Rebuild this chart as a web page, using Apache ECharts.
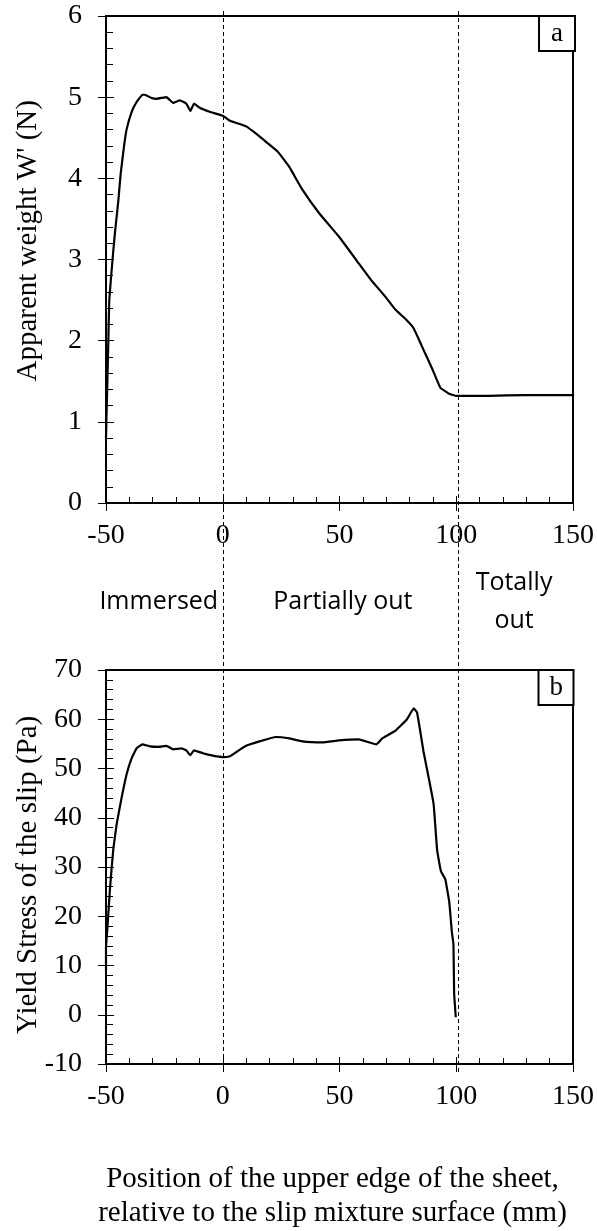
<!DOCTYPE html>
<html><head><meta charset="utf-8">
<script src="https://cdn.jsdelivr.net/npm/echarts@6/dist/echarts.min.js"></script>
<style>html,body{margin:0;padding:0;background:#fff}#c{width:597px;height:1231px}</style>
</head><body><div id="c"></div>
<script>
// Panel a: apparent weight W' (N) vs position (mm)
const posA = [-50, -49.4, -49.0, -48.6, -47.2, -46.2, -44.7, -43.7, -42.3, -41.2, -39.0, -36.9, -34.4, -33.4, -30.5, -28.4, -24.1, -21.3, -18.4, -15.6, -13.9, -12.3, -9.9, -5.6, 0, 3.1, 5.0, 10.0, 14.3, 18.5, 23.5, 28.5, 34.1, 41.3, 49.8, 58.3, 64.0, 69.7, 74.0, 78.5, 81.8, 85.3, 89.6, 93.2, 96.7, 99.8, 113.8, 129.4, 150.5];
const weight = [0.8, 1.52, 2.0, 2.5, 3.0, 3.32, 3.73, 4.06, 4.39, 4.60, 4.82, 4.94, 5.03, 5.03, 4.99, 4.98, 5.00, 4.93, 4.96, 4.92, 4.83, 4.92, 4.87, 4.82, 4.77, 4.71, 4.69, 4.64, 4.55, 4.45, 4.33, 4.14, 3.86, 3.57, 3.28, 2.95, 2.73, 2.54, 2.38, 2.26, 2.15, 1.93, 1.66, 1.42, 1.35, 1.32, 1.32, 1.33, 1.33];
// Panel b: yield stress of the slip (Pa) vs position (mm)
const posB = [-50, -50, -49.4, -48.3, -46.9, -45.4, -43.3, -41.2, -39.0, -36.9, -34.4, -31.2, -27.6, -24.1, -21.3, -17.7, -15.6, -13.9, -12.3, -8.5, -4.2, 0, 3.1, 6.0, 10.0, 15.7, 22.8, 28.5, 34.1, 42.7, 49.8, 58.3, 65.7, 68.3, 74.0, 78.9, 81.8, 83.2, 86.0, 88.2, 90.3, 91.8, 93.4, 95.3, 97.0, 98.1, 98.8, 99.1, 99.8];
const stress = [9, 13.6, 17.6, 25.6, 33.5, 38.8, 44.1, 48.8, 52.1, 54.1, 54.9, 54.5, 54.4, 54.6, 53.9, 54.1, 53.7, 52.7, 53.7, 53.1, 52.6, 52.3, 52.5, 53.4, 54.6, 55.5, 56.4, 56.1, 55.5, 55.3, 55.7, 55.9, 54.9, 56.1, 57.7, 60.0, 62.2, 61.4, 53.4, 48.1, 42.8, 33.5, 29.2, 27.5, 22.9, 16.9, 14.3, 4.3, -0.5];
// Phase boundaries (mm) and phase labels
const boundaries = [0, 100];
const phaseLabels = [{text: 'Immersed', x: -27.5}, {text: 'Partially out', x: 51}, {text: 'Totally\nout', x: 124}];
const yTitleA = "Apparent weight W' (N)";
const yTitleB = 'Yield Stress of the slip (Pa)';
const xTitle = 'Position of the upper edge of the sheet,\nrelative to the slip mixture surface (mm)';

const SERIF = 'Liberation Serif';
const tickFont = {fontFamily: SERIF, fontSize: 28, color: '#000'};
const black = '#000';

function zip(a, b) { return a.map((v, i) => [v, b[i]]); }

function xAxes(grid) {
  return [
    {gridIndex: grid, type: 'value', min: -50, max: 150, interval: 50, position: 'bottom',
     axisLine: {onZero: false, lineStyle: {color: black, width: 2}},
     axisTick: {inside: true, length: 7, lineStyle: {color: black, width: 1}},
     minorTick: {show: true, splitNumber: 5, length: 6, lineStyle: {color: black, width: 1}},
     axisLabel: Object.assign({margin: 19}, tickFont), splitLine: {show: false}},
    {gridIndex: grid, type: 'value', min: -50, max: 150, interval: 50, position: 'bottom',
     axisLine: {show: false, onZero: false}, axisTick: {inside: false, length: 8, lineStyle: {color: black, width: 1}},
     axisLabel: {show: false}, splitLine: {show: false}}
  ];
}
function yAxes(grid, min, max, interval) {
  return [
    {gridIndex: grid, type: 'value', min: min, max: max, interval: interval, position: 'left',
     axisLine: {onZero: false, lineStyle: {color: black, width: 2}},
     axisTick: {inside: true, length: 8, lineStyle: {color: black, width: 1}},
     minorTick: {show: true, splitNumber: 5, length: 7, lineStyle: {color: black, width: 1}},
     axisLabel: Object.assign({margin: 24}, tickFont), splitLine: {show: false}},
    {gridIndex: grid, type: 'value', min: min, max: max, interval: interval, position: 'left',
     axisLine: {show: false, onZero: false}, axisTick: {inside: false, length: 8, lineStyle: {color: black, width: 1}},
     axisLabel: {show: false}, splitLine: {show: false}}
  ];
}

const chart = echarts.init(document.getElementById('c'), null, {renderer: 'canvas'});
const xA = xAxes(0), xB = xAxes(1);
xB[0].name = xTitle; xB[0].nameLocation = 'middle'; xB[0].nameGap = 98;
xB[0].nameTextStyle = {fontFamily: SERIF, fontSize: 29, lineHeight: 34, color: black, padding: [0, 14, 0, 0]};

const option = {
  animation: false,
  backgroundColor: '#fff',
  title: [
    {text: 'a', right: 22, top: 16, padding: [4, 12, 4, 12], borderColor: black, borderWidth: 2, backgroundColor: '#fff',
     textStyle: {fontFamily: SERIF, fontSize: 27, fontWeight: 'normal', color: black}},
    {text: 'b', right: 23, top: 670, padding: [4, 11, 4, 11], borderColor: black, borderWidth: 2, backgroundColor: '#fff',
     textStyle: {fontFamily: SERIF, fontSize: 27, fontWeight: 'normal', color: black}}
  ],
  grid: [
    {left: 106, right: 22, top: 16, height: 487, show: true, borderColor: black, borderWidth: 2},
    {left: 106, right: 23, top: 670, height: 402, show: true, borderColor: black, borderWidth: 2},
    {left: 106, right: 22, top: 11, height: 1061, show: false}
  ],
  xAxis: [
    xA[0], xA[1], xB[0], xB[1],
    {gridIndex: 2, type: 'value', min: -50, max: 150, show: false}
  ],
  yAxis: [
    ...yAxes(0, 0, 6, 1),
    ...yAxes(1, -10, 70, 10),
    {gridIndex: 2, type: 'value', min: 0, max: 1, show: false}
  ],
  series: [
    {type: 'line', xAxisIndex: 4, yAxisIndex: 4, data: [], silent: true,
     markLine: {silent: true, symbol: ['none', 'none'], label: {show: false},
       lineStyle: {color: black, width: 1, type: [4, 3]},
       data: boundaries.map(b => ({xAxis: b}))}},
    {type: 'line', xAxisIndex: 0, yAxisIndex: 0, data: zip(posA, weight), showSymbol: false, smooth: 0.1,
     lineStyle: {color: black, width: 2.2}, clip: false},
    {type: 'line', xAxisIndex: 2, yAxisIndex: 2, data: zip(posB, stress), showSymbol: false, smooth: 0.1,
     lineStyle: {color: black, width: 2.2}, clip: false}
  ]
};
chart.setOption(option);

const labelY = 602;
const graphics = phaseLabels.map(p => ({
  type: 'text', x: chart.convertToPixel({xAxisIndex: 4}, p.x), y: labelY,
  style: {text: p.text, fontFamily: 'Open Sans', fontSize: 25, lineHeight: 38, fill: black,
    align: 'center', verticalAlign: 'middle'}
}));
// rotated y-axis titles, centred at given data heights of each panel
const yTitles = [{text: yTitleA, yAxisIndex: 0, v: 3.23}, {text: yTitleB, yAxisIndex: 2, v: 28.4}];
yTitles.forEach(t => {
  graphics.push({type: 'text', x: 28, y: chart.convertToPixel({yAxisIndex: t.yAxisIndex}, t.v), rotation: Math.PI / 2,
    style: {text: t.text, fontFamily: SERIF, fontSize: 29, fill: black, align: 'center', verticalAlign: 'middle'}});
});
chart.setOption({graphic: graphics});
</script>
</body></html>
